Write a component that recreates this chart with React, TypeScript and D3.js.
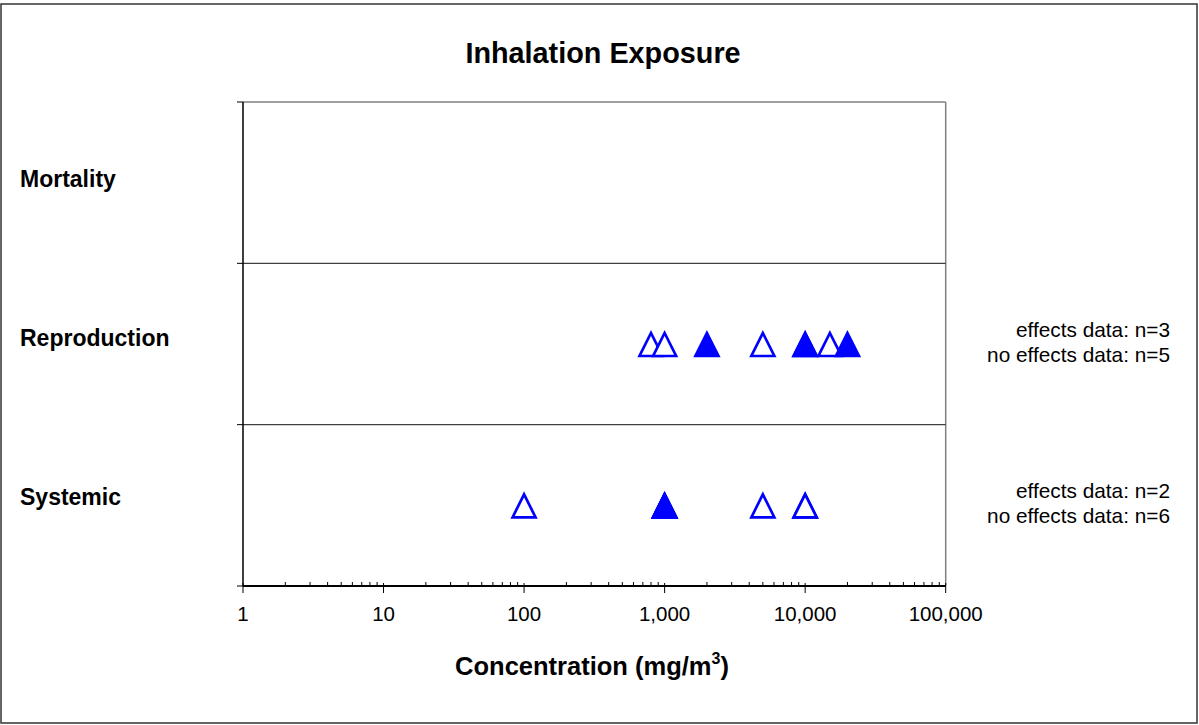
// Inhalation exposure: effect / no-effect concentrations per endpoint,
// plotted on a log concentration axis with one band per endpoint.
import React from 'react';
import * as d3 from 'd3';

const W = 1199;
const H = 725;

const endpoints = ['Mortality', 'Reproduction', 'Systemic'];

// mg/m3 (filled = effects, open = no effects)
const effectsReproduction = [2000, 10000, 20000];
const noEffectsReproduction = [800, 1000, 5000, 10000, 15000];
const effectsSystemic = [1000, 1000];
const noEffectsSystemic = [100, 1000, 1000, 5000, 10000, 10000];

const tickLabels = [1, 10, 100, 1000, 10000, 100000];

const series = [
  { endpoint: 'Reproduction', effects: effectsReproduction, noEffects: noEffectsReproduction },
  { endpoint: 'Systemic', effects: effectsSystemic, noEffects: noEffectsSystemic },
];

const FONT = '"Liberation Sans", Arial, Helvetica, sans-serif';
const BLUE = '#0000ff';

const LEFT = 243;
const RIGHT = 945.7;
const TOP = 102;
const BOTTOM = 586;

// tall triangle, bbox roughly centred on (0,0)
const triangle = d3.line()([
  [0, -11],
  [11.5, 12],
  [-11.5, 12],
]) + 'Z';

export default function App() {
  const x = d3.scaleLog().domain([1, 100000]).range([LEFT, RIGHT]);
  const y = d3.scaleBand().domain(endpoints).range([TOP, BOTTOM]).padding(0);
  const fmt = d3.format(',');
  const minor = x.ticks().filter((t) => !tickLabels.includes(t));
  const bandCenter = (e: string) => (y(e) ?? 0) + y.bandwidth() / 2;

  return (
    <svg
      width={W}
      height={H}
      style={{ position: 'absolute', left: 0, top: 0, background: 'white' }}
      fontFamily={FONT}
    >
      {/* outer frame */}
      <rect x={1} y={4} width={W - 3} height={H - 6} fill="white" stroke="#333" strokeWidth={1.5} />

      <text x={603} y={63} textAnchor="middle" fontSize={28.8} fontWeight="bold">
        Inhalation Exposure
      </text>

      {/* plot frame */}
      <line x1={LEFT} x2={RIGHT} y1={TOP} y2={TOP} stroke="#808080" strokeWidth={1.5} />
      <line x1={RIGHT} x2={RIGHT} y1={TOP} y2={BOTTOM} stroke="#808080" strokeWidth={1.5} />
      {endpoints.slice(1).map((e) => (
        <line key={e} x1={LEFT} x2={RIGHT} y1={y(e)} y2={y(e)} stroke="#404040" strokeWidth={1.2} />
      ))}

      {/* left axis with band boundary ticks */}
      <line x1={LEFT} x2={LEFT} y1={TOP} y2={BOTTOM} stroke="#000" strokeWidth={1.5} />
      {[...endpoints.map((e) => y(e) ?? 0), BOTTOM].map((v) => (
        <line key={v} x1={LEFT - 6} x2={LEFT} y1={v} y2={v} stroke="#000" strokeWidth={1} />
      ))}

      {endpoints.map((e, i) => (
        <text key={e} x={20} y={187 + i * 159} fontSize={23} fontWeight="bold">
          {e}
        </text>
      ))}

      {/* bottom log axis */}
      <line x1={LEFT} x2={RIGHT} y1={BOTTOM} y2={BOTTOM} stroke="#000" strokeWidth={2} />
      {minor.map((t) => (
        <line key={t} x1={x(t)} x2={x(t)} y1={BOTTOM - 4} y2={BOTTOM} stroke="#000" strokeWidth={1} />
      ))}
      {tickLabels.map((t) => (
        <g key={t}>
          <line x1={x(t)} x2={x(t)} y1={BOTTOM - 3} y2={BOTTOM + 7} stroke="#000" strokeWidth={1} />
          <text x={x(t)} y={621} textAnchor="middle" fontSize={20.5}>
            {fmt(t)}
          </text>
        </g>
      ))}

      <text x={592} y={675} textAnchor="middle" fontSize={25.5} fontWeight="bold">
        Concentration (mg/m<tspan dy={-11} fontSize={16}>3</tspan>
        <tspan dy={11}>)</tspan>
      </text>

      {/* points: open (no effects) under filled (effects) */}
      {series.map((s) => (
        <g key={s.endpoint}>
          {s.noEffects.map((v, i) => (
            <path
              key={'n' + i}
              d={triangle}
              transform={`translate(${x(v)},${bandCenter(s.endpoint)})`}
              fill="white"
              stroke={BLUE}
              strokeWidth={2.7}
            />
          ))}
          {s.effects.map((v, i) => (
            <path
              key={'e' + i}
              d={triangle}
              transform={`translate(${x(v)},${bandCenter(s.endpoint)})`}
              fill={BLUE}
              stroke={BLUE}
              strokeWidth={2.7}
            />
          ))}
          <text x={1170} y={bandCenter(s.endpoint) - 7} textAnchor="end" fontSize={20.8}>
            {`effects data: n=${s.effects.length}`}
          </text>
          <text x={1170} y={bandCenter(s.endpoint) + 18} textAnchor="end" fontSize={20.8}>
            {`no effects data: n=${s.noEffects.length}`}
          </text>
        </g>
      ))}
    </svg>
  );
}
